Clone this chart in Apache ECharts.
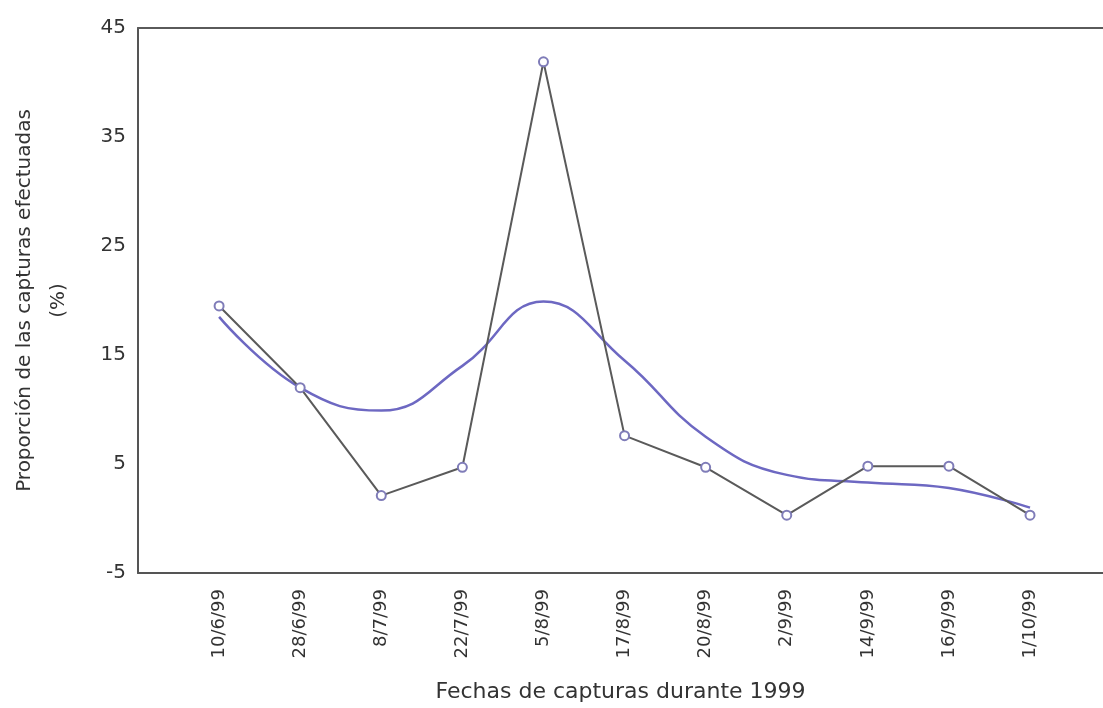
<!DOCTYPE html>
<html>
<head>
<meta charset="utf-8">
<script src="https://cdn.jsdelivr.net/npm/echarts@6/dist/echarts.min.js"></script>
<style>
html,body{margin:0;padding:0;background:#fff;}
#chart{width:1103px;height:708px;}
</style>
</head>
<body>
<div id="chart"></div>
<script>
const categories = ['10/6/99','28/6/99','8/7/99','22/7/99','5/8/99','17/8/99','20/8/99','2/9/99','14/9/99','16/9/99','1/10/99'];
const capturas = [19.5, 12.0, 2.1, 4.7, 41.9, 7.6, 4.7, 0.3, 4.8, 4.8, 0.3];
const tendencia = [18.5, 12.0, 9.9, 14.0, 19.9, 14.5, 7.5, 4.0, 3.3, 2.8, 1.0];
const yTicks = [-5, 5, 15, 25, 35, 45];

const FONT = 'DejaVu Sans';
const TXT = '#333333';

const chart = echarts.init(document.getElementById('chart'), null, {renderer: 'canvas'});
const toPairs = arr => arr.map((v, i) => [i + 1, v]);

chart.setOption({
  backgroundColor: '#ffffff',
  animation: false,
  grid: {left: 131, top: 28, right: 0, bottom: 133, containLabel: false},
  xAxis: [{
    type: 'value',
    min: 0,
    max: 11.9,
    interval: 1,
    position: 'bottom',
    axisLine: {show: true, onZero: false, lineStyle: {color: '#555555', width: 2}},
    axisTick: {show: false},
    splitLine: {show: false},
    axisLabel: {
      rotate: 90,
      margin: 16,
      fontFamily: FONT,
      fontSize: 18,
      color: TXT,
      showMinLabel: true,
      showMaxLabel: true,
      formatter: function (v) {
        const i = Math.round(v) - 1;
        if (Math.abs(v - Math.round(v)) > 1e-6 || i < 0 || i >= categories.length) return '';
        return categories[i];
      }
    },
    name: 'Fechas de capturas durante 1999',
    nameLocation: 'middle',
    nameGap: 108,
    nameTextStyle: {fontFamily: FONT, fontSize: 22, color: TXT}
  }, {
    type: 'value',
    min: 0,
    max: 11.9,
    position: 'top',
    axisLine: {show: true, onZero: false, lineStyle: {color: '#5a5a5a', width: 2}},
    axisTick: {show: false},
    axisLabel: {show: false},
    splitLine: {show: false}
  }],
  yAxis: {
    type: 'value',
    min: yTicks[0],
    max: yTicks[yTicks.length - 1],
    interval: 10,
    axisLine: {show: true, onZero: false, lineStyle: {color: '#555555', width: 2}},
    axisTick: {show: false},
    splitLine: {show: false},
    axisLabel: {margin: 12, fontFamily: FONT, fontSize: 20, color: TXT},
    name: 'Proporción de las capturas efectuadas\n(%)',
    nameLocation: 'middle',
    nameRotate: 90,
    nameGap: 62,
    nameTextStyle: {fontFamily: FONT, fontSize: 20, color: TXT, lineHeight: 34, align: 'center'}
  },
  series: [{
    name: 'Tendencia',
    type: 'line',
    data: toPairs(tendencia),
    smooth: 0.45,
    showSymbol: false,
    symbol: 'none',
    lineStyle: {color: '#6d68c2', width: 2.5},
    z: 2
  }, {
    name: 'Capturas',
    type: 'line',
    data: toPairs(capturas),
    symbol: 'circle',
    symbolSize: 9,
    lineStyle: {color: '#5a5a5a', width: 2},
    itemStyle: {color: '#ffffff', borderColor: '#7f7cb8', borderWidth: 2},
    z: 3
  }]
});
</script>
</body>
</html>
